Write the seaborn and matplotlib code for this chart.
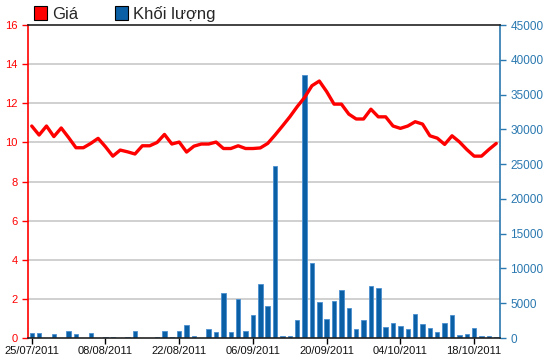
import matplotlib
matplotlib.use("Agg")
import matplotlib.pyplot as plt
import numpy as np
import pandas as pd
import seaborn as sns
from matplotlib.patches import Patch
from matplotlib.ticker import FixedLocator

# one entry per trading day, 25/07/2011 .. 21/10/2011
price = [10.84, 10.38, 10.84, 10.30, 10.74, 10.25, 9.73, 9.73, 9.95, 10.21,
         9.78, 9.30, 9.61, 9.52, 9.41, 9.83, 9.83, 10.00, 10.41, 9.92,
         10.02, 9.51, 9.81, 9.92, 9.92, 10.02, 9.69, 9.69, 9.83, 9.69,
         9.69, 9.72, 9.95, 10.38, 10.84, 11.31, 11.83, 12.30, 12.90, 13.14,
         12.60, 11.96, 11.96, 11.45, 11.20, 11.20, 11.70, 11.31, 11.31, 10.84,
         10.72, 10.84, 11.06, 10.94, 10.34, 10.22, 9.90, 10.34, 10.03, 9.64,
         9.30, 9.30, 9.64, 9.95]
volume = [730, 730, 0, 540, 0, 1075, 540, 0, 730, 0,
          200, 200, 0, 200, 1075, 0, 0, 200, 1075, 200,
          1075, 1860, 340, 0, 1270, 930, 6450, 930, 5670, 1075,
          3330, 7700, 4560, 24750, 340, 340, 2570, 37850, 10800, 5140,
          2765, 5290, 6935, 4365, 1260, 2570, 7470, 7130, 1650, 2230,
          1795, 1260, 3490, 2040, 1500, 920, 2180, 3250, 390, 530,
          1500, 340, 240, 190]
tick_labels = ["25/07/2011", "08/08/2011", "22/08/2011", "06/09/2011",
               "20/09/2011", "04/10/2011", "18/10/2011"]

RED = "#ff0000"
BLUE = "#0b5fa5"
AXBLUE = "#2a78b0"

sns.set_style("white")
plt.rcParams["font.family"] = ["Liberation Sans", "DejaVu Sans"]

df = pd.DataFrame({"day": np.arange(len(price)), "price": price, "volume": volume})

fig = plt.figure(figsize=(5.5, 3.64), dpi=100)
ax = fig.add_axes([0.051, 0.0714, 0.858, 0.8596])
ax2 = ax.twinx()

sns.barplot(data=df, x="day", y="volume", ax=ax2, color=BLUE, width=0.6,
            edgecolor="#4a90d0", linewidth=0.6, saturation=1)
sns.lineplot(data=df, x="day", y="price", ax=ax, color=RED, linewidth=2.4)

ax.set_zorder(ax2.get_zorder() + 1)
ax.patch.set_visible(False)

ax.set_xlim(-0.5, 63.5)
ax.set_ylim(0, 16)
ax2.set_ylim(0, 45000)
ax.set_yticks(np.arange(0, 17, 2))
ax2.set_yticks(np.arange(0, 45001, 5000))
ax.set_xticks(np.arange(0, 61, 10))
ax.set_xticklabels(tick_labels)
ax2.set_xticks(np.arange(0, 61, 10))
ax2.set_xticklabels(tick_labels)

# grid behind the bars, one line per price tick
ax2.yaxis.set_minor_locator(FixedLocator(np.arange(0, 45001, 45000 / 8)))
ax2.grid(which="minor", axis="y", color="#c8c8c8", linewidth=1.2)
ax2.tick_params(axis="y", which="minor", length=0)
ax.grid(False)
ax2.grid(which="major", visible=False)

ax.set_xlabel("")
ax.set_ylabel("")
ax2.set_xlabel("")
ax2.set_ylabel("")

ax.tick_params(axis="y", colors=RED, labelsize=8, length=4, width=1, direction="out", left=True)
ax.tick_params(axis="x", colors="black", labelsize=8, length=4, width=1, direction="out", bottom=True, pad=2)
ax2.tick_params(axis="y", colors=AXBLUE, labelsize=8.5, length=4, width=1, direction="out", right=True)
ax2.tick_params(axis="x", bottom=False, labelbottom=False)
for lab in ax.get_xticklabels():
    lab.set_color("#111111")

for a in (ax, ax2):
    for s in a.spines.values():
        s.set_visible(False)
ax.spines["left"].set_visible(True)
ax.spines["left"].set_color(RED)
ax.spines["left"].set_linewidth(1.2)
ax.spines["top"].set_visible(True)
ax.spines["top"].set_color("#222222")
ax.spines["top"].set_linewidth(1.2)
ax.spines["bottom"].set_visible(True)
ax.spines["bottom"].set_color("#222222")
ax.spines["bottom"].set_linewidth(1.2)
ax2.spines["right"].set_visible(True)
ax2.spines["right"].set_color(AXBLUE)
ax2.spines["right"].set_linewidth(1.2)

handles = [Patch(facecolor=RED, edgecolor="black", linewidth=0.8, label="Giá"),
           Patch(facecolor=BLUE, edgecolor="black", linewidth=0.8, label="Khối lượng")]
fig.legend(handles=handles, loc="upper left", bbox_to_anchor=(0.043, 1.012), ncol=2,
           frameon=False, fontsize=12, handlelength=0.8, handleheight=0.85,
           handletextpad=0.3, columnspacing=2.2, borderaxespad=0.2)

fig.savefig("out.png", dpi=100)
